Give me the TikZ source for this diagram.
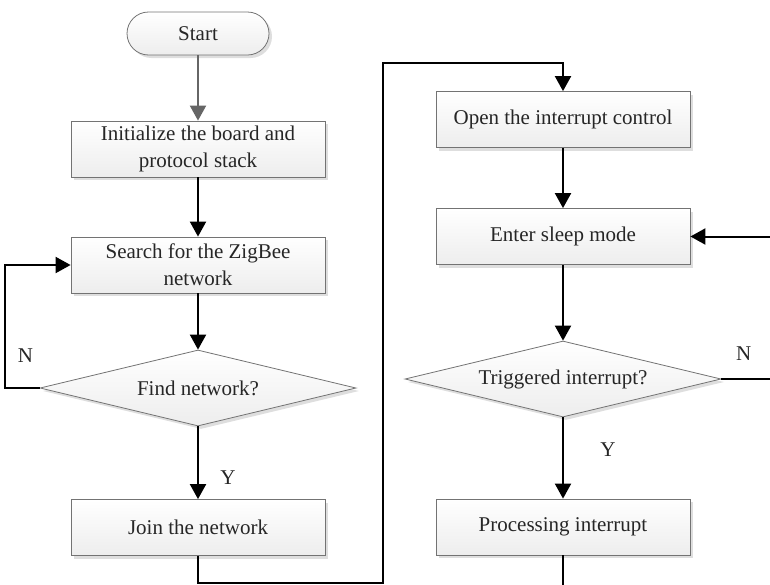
\documentclass[tikz,border=0pt]{standalone}
\usepackage{fontspec}
\setmainfont{Liberation Serif}
\usetikzlibrary{arrows.meta,shapes.geometric,shadows}

\begin{document}
\begin{tikzpicture}[shape=rectangle,>={Triangle[width=16pt,length=15pt]},
  box/.style={draw=black!55, line width=0.8pt, top color=white, bottom color=black!7,
    drop shadow={shadow xshift=3pt,shadow yshift=-3pt,fill=black!13,opacity=1},
    font=\fontsize{21}{27}\selectfont, text=black!85, align=center},
  process/.style={box, minimum width=254pt, minimum height=56pt},
  decision/.style={box, shape=diamond, aspect=4, inner sep=0pt,
    minimum width=316pt, minimum height=76pt},
  terminal/.style={box, rounded corners=21.5pt, minimum width=142pt, minimum height=43pt},
  flow/.style={->, line width=2pt},
  yesno/.style={font=\fontsize{21}{27}\selectfont, text=black!85}]
\useasboundingbox (0,0) rectangle (770pt,-584pt);

% left column
\node (start) [terminal] at (198pt,-33.5pt) {Start};
\node (init) [process, node distance=115.5pt, below of=start]
{Initialize the board and\\protocol stack};
\node (search) [process, node distance=116pt, below of=init]
{Search for the ZigBee\\network};
\node (findNet) [decision, node distance=123pt, below of=search]
{Find network?};
\node (join) [process, node distance=139.5pt, below of=findNet]
{Join the network};

% right column
\node (openInt) [process] at (563pt,-119.5pt) {Open the interrupt control};
\node (sleep) [process, node distance=117pt, below of=openInt]
{Enter sleep mode};
\node (trigger) [decision, node distance=142.5pt, below of=sleep]
{Triggered interrupt?};
\node (handle) [process, node distance=148pt, below of=trigger]
{Processing interrupt};

\coordinate (overTop) at ([shift={(-180pt,28pt)}]openInt.north);
\coordinate (handleOut) at ([yshift=-32pt]handle.south);

\draw[flow, draw=black!60] (start) -- (init);
\draw[flow] (init) -- (search);
\draw[flow] (search) -- (findNet);
\draw[flow] (findNet.west) -- ++(-35pt,0)
|- node [yesno, pos=0.13, right=9pt] {N}
(search.west);
\draw[flow] (findNet) --
node [yesno, pos=0.7, right=18pt] {Y}
(join);
\draw[flow] (join.south) -- ++(0,-27pt) -| (overTop) -| (openInt.north);

\draw[flow] (openInt) -- (sleep);
\draw[flow] (sleep) -- (trigger);
\draw[flow] (trigger.east) --
node [yesno, pos=0.43, above=14pt] {N}
++(52pt,0) |- (sleep.east);
\draw[flow] (trigger) --
node [yesno, pos=0.4, right=33pt] {Y}
(handle);
\draw[line width=2pt] (handle.south) -- (handleOut);
\end{tikzpicture}
\end{document}
